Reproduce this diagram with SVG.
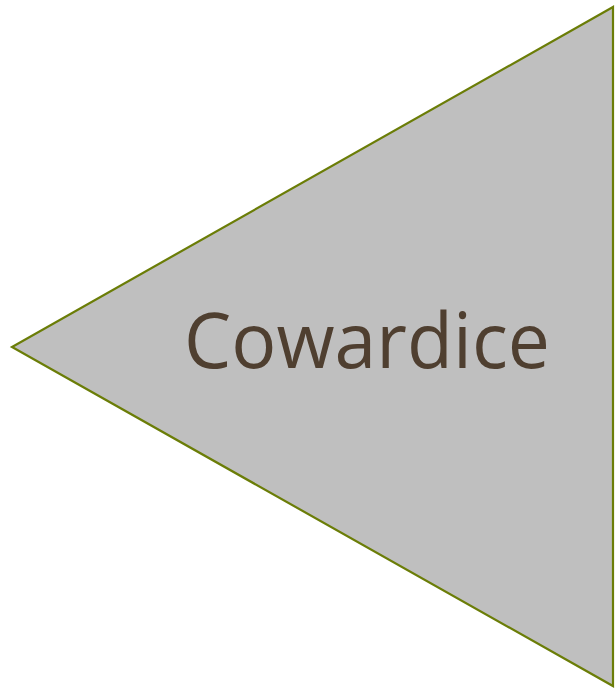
<svg xmlns="http://www.w3.org/2000/svg" width="616" height="691" viewBox="0 0 616 691">
<style>
.shape{fill:#bfbfbf;stroke:#6b7d07;stroke-width:2.2}
.lbl{font-family:"Open Sans","Noto Sans",sans-serif;font-size:76px;fill:#4f3f30}
</style>
<g id="node-cowardice">
<polygon class="shape" points="613,7 12,347 613,686"/>
<text class="lbl" x="184" y="368" textLength="366" lengthAdjust="spacingAndGlyphs">Cowardice</text>
</g>
<g id="connectors"/>
</svg>
